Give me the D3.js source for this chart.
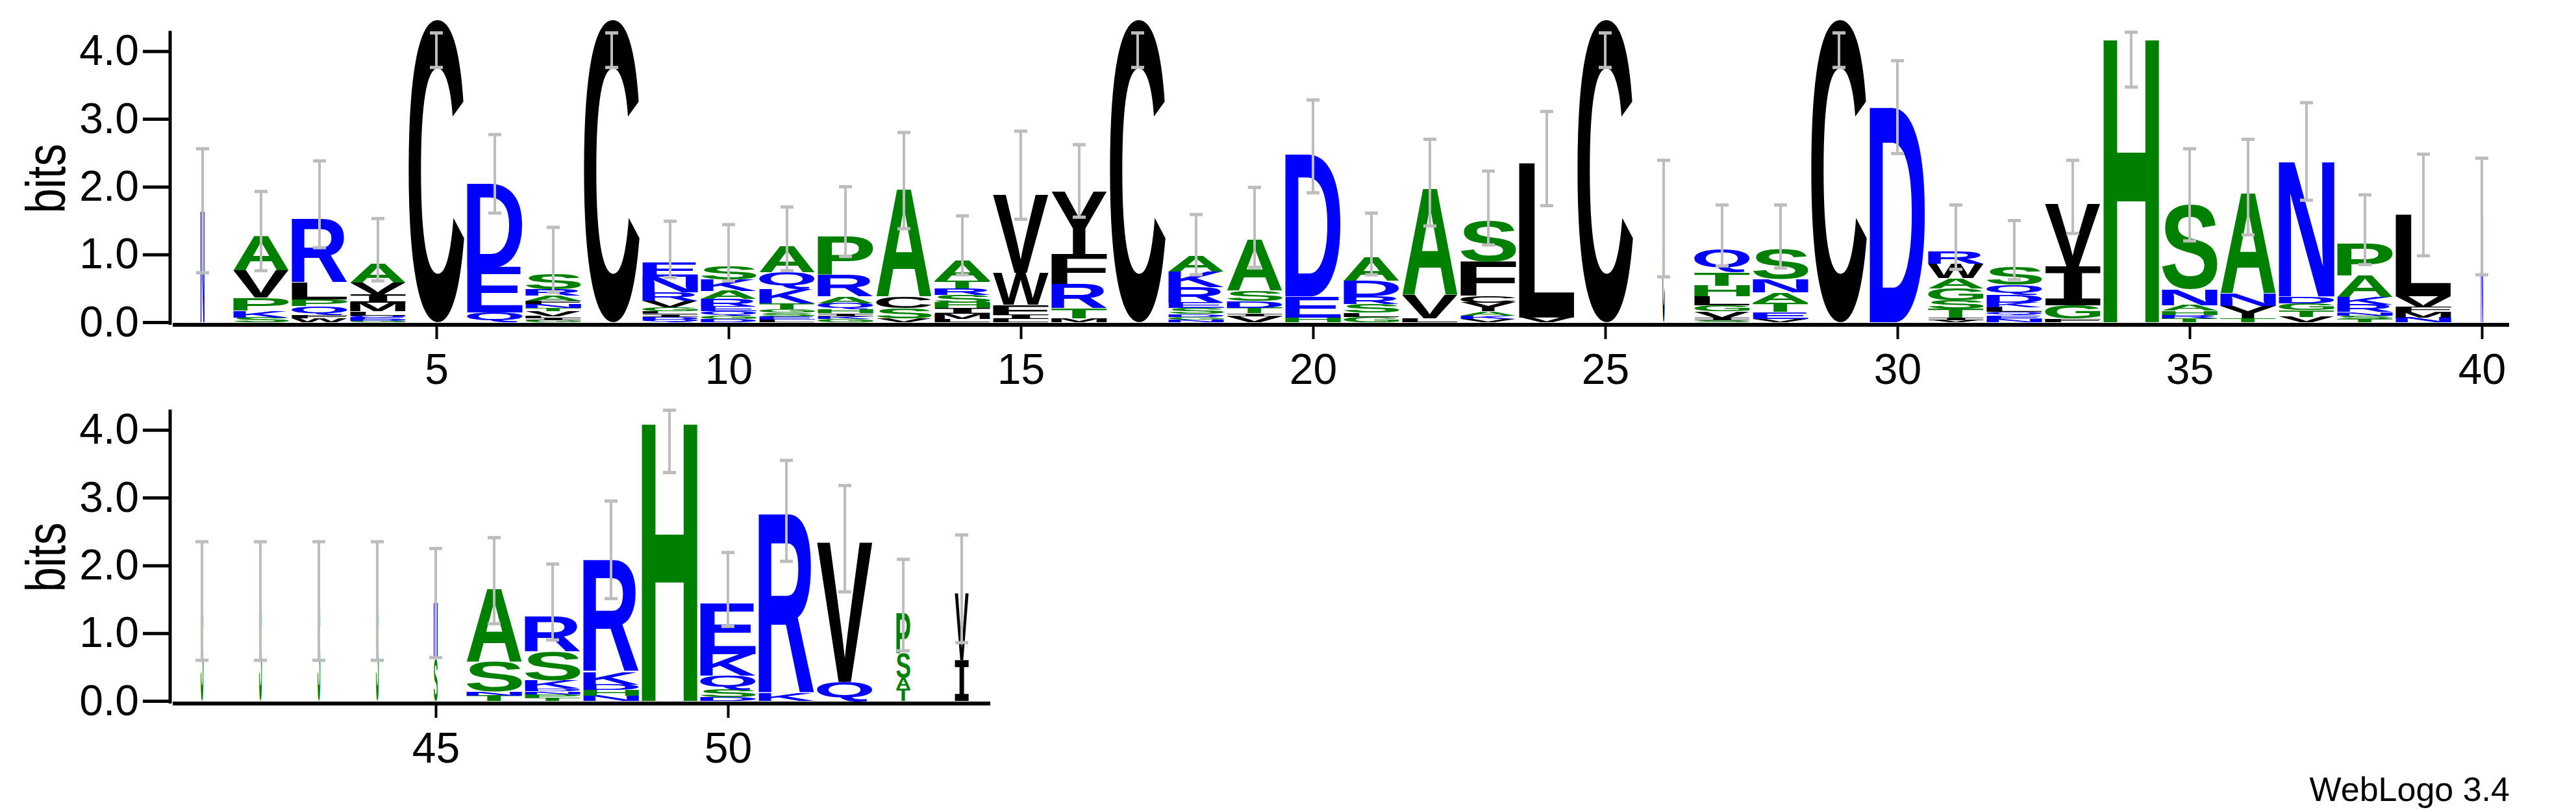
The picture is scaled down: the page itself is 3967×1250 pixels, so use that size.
<!DOCTYPE html>
<html>
<head>
<meta charset="utf-8">
<script src="https://cdn.jsdelivr.net/npm/d3@7"></script>
<style>
  body { margin: 0; background: #fff; }
  svg { display: block; }
</style>
</head>
<body>
<svg id="logo" width="3967" height="1250"></svg>
<script>
// stacks are listed bottom -> top, heights in bits
let stacks = [
  [['N', 1.65]],
  [['S', 0.07], ['K', 0.1], ['P', 0.19], ['V', 0.4], ['A', 0.51]],
  [['W', 0.06], ['F', 0.05], ['Q', 0.13], ['P', 0.1], ['L', 0.25], ['R', 0.94]],
  [['G', 0.02], ['D', 0.02], ['E', 0.03], ['Q', 0.03], ['L', 0.06], ['M', 0.13], ['I', 0.12], ['V', 0.17], ['A', 0.28]],
  [['C', 4.47]],
  [['Q', 0.14], ['E', 0.67], ['D', 1.24]],
  [['G', 0.03], ['I', 0.03], ['L', 0.03], ['V', 0.07], ['T', 0.05], ['N', 0.06], ['F', 0.05], ['A', 0.07], ['R', 0.1], ['S', 0.23]],
  [['C', 4.47]],
  [['Q', 0.04], ['D', 0.04], ['I', 0.04], ['L', 0.04], ['G', 0.06], ['V', 0.1], ['R', 0.12], ['N', 0.23], ['E', 0.21]],
  [['D', 0.05], ['G', 0.05], ['Q', 0.06], ['E', 0.07], ['R', 0.11], ['A', 0.12], ['K', 0.17], ['S', 0.2]],
  [['L', 0.04], ['E', 0.05], ['S', 0.05], ['G', 0.05], ['T', 0.09], ['K', 0.21], ['Q', 0.25], ['A', 0.38]],
  [['G', 0.05], ['K', 0.04], ['I', 0.04], ['H', 0.06], ['Q', 0.09], ['A', 0.1], ['R', 0.32], ['P', 0.57]],
  [['V', 0.06], ['S', 0.15], ['C', 0.16], ['A', 1.58]],
  [['L', 0.05], ['M', 0.07], ['I', 0.09], ['H', 0.08], ['S', 0.11], ['R', 0.1], ['T', 0.11], ['A', 0.29]],
  [['L', 0.05], ['I', 0.06], ['F', 0.15], ['W', 0.47], ['V', 1.16]],
  [['M', 0.06], ['T', 0.15], ['R', 0.36], ['F', 0.44], ['Y', 0.92]],
  [['C', 4.47]],
  [['N', 0.04], ['G', 0.04], ['D', 0.04], ['S', 0.09], ['E', 0.08], ['R', 0.23], ['K', 0.23], ['A', 0.23]],
  [['V', 0.09], ['I', 0.04], ['T', 0.08], ['D', 0.1], ['S', 0.15], ['A', 0.75]],
  [['H', 0.07], ['E', 0.31], ['D', 2.1]],
  [['G', 0.08], ['L', 0.06], ['S', 0.13], ['R', 0.11], ['D', 0.23], ['A', 0.34]],
  [['L', 0.06], ['V', 0.34], ['A', 1.57]],
  [['V', 0.05], ['K', 0.05], ['A', 0.06], ['Y', 0.13], ['C', 0.1], ['F', 0.5], ['S', 0.6]],
  [['V', 0.07], ['L', 2.28]],
  [['C', 4.47]],
  [['C', 1.53]],
  [['S', 0.03], ['I', 0.03], ['V', 0.1], ['G', 0.09], ['L', 0.13], ['H', 0.16], ['T', 0.2], ['Q', 0.33]],
  [['V', 0.05], ['E', 0.1], ['T', 0.14], ['A', 0.15], ['N', 0.2], ['S', 0.44]],
  [['C', 4.47]],
  [['D', 3.17]],
  [['V', 0.03], ['I', 0.04], ['T', 0.13], ['S', 0.12], ['G', 0.18], ['A', 0.15], ['W', 0.21], ['R', 0.19]],
  [['N', 0.05], ['E', 0.05], ['Q', 0.05], ['L', 0.07], ['K', 0.07], ['D', 0.11], ['Q', 0.15], ['S', 0.27]],
  [['F', 0.05], ['G', 0.2], ['I', 0.57], ['V', 0.92]],
  [['H', 4.2]],
  [['T', 0.06], ['R', 0.05], ['H', 0.06], ['A', 0.08], ['N', 0.24], ['S', 1.25]],
  [['T', 0.06], ['Y', 0.18], ['N', 0.18], ['A', 1.48]],
  [['V', 0.08], ['T', 0.1], ['G', 0.1], ['D', 0.1], ['N', 2.0]],
  [['T', 0.05], ['S', 0.05], ['N', 0.05], ['R', 0.11], ['K', 0.11], ['A', 0.32], ['P', 0.47]],
  [['N', 0.07], ['M', 0.08], ['F', 0.07], ['V', 0.16], ['L', 1.2]],
  [['N', 1.56]],
  [['S', 1.48]],
  [['S', 1.48]],
  [['S', 1.48]],
  [['S', 1.48]],
  [['S', 0.62], ['N', 0.83]],
  [['T', 0.08], ['N', 0.06], ['S', 0.44], ['A', 1.08]],
  [['T', 0.05], ['P', 0.05], ['N', 0.04], ['D', 0.04], ['K', 0.12], ['S', 0.43], ['R', 0.52]],
  [['N', 0.08], ['H', 0.08], ['D', 0.08], ['K', 0.19], ['R', 1.65]],
  [['H', 4.12]],
  [['D', 0.06], ['S', 0.11], ['Q', 0.2], ['K', 0.32], ['E', 0.75]],
  [['K', 0.11], ['R', 2.65]],
  [['Q', 0.28], ['V', 2.06]],
  [['T', 0.18], ['A', 0.16], ['S', 0.36], ['P', 0.59]],
  [['I', 0.6], ['V', 0.98]]
];

// fraction of the column width used by each position (gappy columns are thin)
let colWeight = [0.07, 1, 1, 1, 1, 1, 1, 1, 1, 1, 1, 1, 1, 1, 1, 1, 1, 1, 1, 1,
  1, 1, 1, 1, 1, 0.04, 1, 1, 1, 1, 1, 1, 1, 1, 1, 1, 1, 1, 1, 0.04,
  0.05, 0.05, 0.05, 0.05, 0.07, 1, 1, 1, 1, 1, 1, 1, 0.25, 0.25];

let errHi = [2.56, 1.93, 2.38, 1.53, 4.27, 2.77, 1.40, 4.27, 1.49, 1.44, 1.70, 2.00, 2.80, 1.57, 2.82, 2.62, 4.27, 1.59, 1.99, 3.28,
  1.61, 2.70, 2.23, 3.11, 4.27, 2.39, 1.73, 1.73, 4.27, 3.86, 1.73, 1.50, 2.39, 4.28, 2.56, 2.70, 3.24, 1.88, 2.48, 2.42,
  2.35, 2.35, 2.35, 2.35, 2.25, 2.41, 2.02, 2.95, 4.29, 2.19, 3.55, 3.18, 2.09, 2.45];
let errLo = [0.73, 0.76, 1.10, 0.61, 3.76, 1.61, 0.44, 3.76, 0.66, 0.61, 0.76, 0.97, 1.38, 0.70, 1.52, 1.55, 3.76, 0.70, 0.81, 1.91,
  0.70, 1.42, 1.14, 1.72, 3.76, 0.67, 0.83, 0.80, 3.76, 2.49, 0.78, 0.63, 1.31, 3.47, 1.20, 1.29, 1.80, 0.85, 0.98, 0.70,
  0.60, 0.60, 0.60, 0.60, 0.64, 1.14, 0.90, 1.51, 3.37, 1.10, 2.06, 1.61, 0.74, 0.86];

let yTicks = [0, 1, 2, 3, 4];

let colors = {
  A: '#008000', G: '#008000', S: '#008000', T: '#008000', H: '#008000', P: '#008000',
  D: '#0000ff', E: '#0000ff', K: '#0000ff', R: '#0000ff', N: '#0000ff', Q: '#0000ff',
  C: '#000000', V: '#000000', L: '#000000', I: '#000000', M: '#000000', F: '#000000', W: '#000000', Y: '#000000'
};

let svg = d3.select('#logo');
let sans = '"Liberation Sans", Arial, sans-serif';

// ink extents of each glyph, so it can be stretched to fill its box
let cnv = document.createElement('canvas').getContext('2d');
let fontFor = l => l === 'I' ? 'bold 200px "DejaVu Sans Mono"' : 'bold 200px "Liberation Sans"';
let metrics = {};
Object.keys(colors).forEach(l => {
  cnv.font = fontFor(l);
  let m = cnv.measureText(l);
  metrics[l] = {
    left: m.actualBoundingBoxLeft, right: m.actualBoundingBoxRight,
    asc: m.actualBoundingBoxAscent, desc: m.actualBoundingBoxDescent
  };
});

let panels = [
  { first: 1, last: 40, zeroY: 500, left: 312, axisEnd: 3864 },
  { first: 41, last: 54, zeroY: 1083, left: 311, axisEnd: 1525 }
];

let perBit = 104.3;
let step = 90;

panels.forEach(p => {
  let g = svg.append('g');
  let x = d3.scaleLinear().domain([p.first, p.last]).range([p.left, p.left + (p.last - p.first) * step]);
  let y = d3.scaleLinear().domain([0, 4.3]).range([p.zeroY - 4, p.zeroY - 4 - 4.3 * perBit]);
  let colW = step * 0.95;

  // letters
  d3.range(p.first, p.last + 1).forEach(pos => {
    let i = pos - 1;
    let w = colW * colWeight[i];
    let base = 0;
    let cg = g.append('g');
    cg.selectAll('text')
      .data(stacks[i].map(d => {
        let r = { letter: d[0], b0: base, b1: base + d[1] };
        base += d[1];
        return r;
      }))
      .enter()
      .append('text')
      .text(d => d.letter)
      .attr('fill', d => colors[d.letter])
      .style('font', d => fontFor(d.letter))
      .attr('transform', d => {
        let m = metrics[d.letter];
        let h = y(d.b0) - y(d.b1);
        let sx = w / (m.left + m.right);
        let sy = h / (m.asc + m.desc);
        return 'translate(' + (x(pos) - w / 2 + m.left * sx) + ',' + (y(d.b0) - m.desc * sy) + ') scale(' + sx + ',' + sy + ')';
      });
  });

  // error bars
  let eb = g.append('g').attr('stroke', '#bdbdbd');
  d3.range(p.first, p.last + 1).forEach(pos => {
    let i = pos - 1;
    eb.append('line').attr('x1', x(pos)).attr('x2', x(pos))
      .attr('y1', y(errLo[i])).attr('y2', y(errHi[i])).attr('stroke-width', 4);
    [errLo[i], errHi[i]].forEach(v => {
      eb.append('line').attr('x1', x(pos) - 10).attr('x2', x(pos) + 10)
        .attr('y1', y(v)).attr('y2', y(v)).attr('stroke-width', 5);
    });
  });

  // y axis
  let yMinor = d3.axisLeft(y).tickValues(d3.range(0, 4.3, 0.2)).tickSize(21).tickFormat('').tickSizeOuter(0);
  let yMajor = d3.axisLeft(y).tickValues(yTicks).tickSize(42).tickPadding(6).tickFormat(d3.format('.1f')).tickSizeOuter(0);
  let ya = g.append('g').attr('transform', 'translate(262,0)');
  ya.call(yMinor);
  ya.call(yMajor);
  ya.selectAll('path.domain').attr('stroke-width', 5).attr('d', 'M0,' + y(4.3) + 'V' + p.zeroY);
  ya.selectAll('line').attr('stroke-width', 5);
  ya.selectAll('text').style('font-family', sans).style('font-size', '66px').attr('fill', '#000');

  g.append('text')
    .attr('transform', 'translate(100,' + (p.zeroY - 225) + ') rotate(-90) scale(0.8,1)')
    .attr('text-anchor', 'middle')
    .style('font-family', sans)
    .style('font-size', '86px')
    .text('bits');

  // x axis
  let positions = d3.range(p.first, p.last + 1);
  let xa = g.append('g').attr('transform', 'translate(0,' + p.zeroY + ')');
  xa.call(d3.axisBottom(x).tickValues(positions.filter(d => d % 5)).tickSize(11).tickFormat(''));
  xa.call(d3.axisBottom(x).tickValues(positions.filter(d => d % 5 === 0)).tickSize(22).tickPadding(22));
  xa.selectAll('path.domain').attr('d', 'M266,0H' + p.axisEnd).attr('stroke-width', 6);
  xa.selectAll('line').attr('stroke-width', 4);
  xa.selectAll('text').style('font-family', sans).style('font-size', '66px').attr('fill', '#000');
});

svg.append('text')
  .attr('x', 3865).attr('y', 1233)
  .attr('text-anchor', 'end')
  .style('font-family', sans)
  .style('font-size', '52px')
  .text('WebLogo 3.4');
</script>
</body>
</html>
